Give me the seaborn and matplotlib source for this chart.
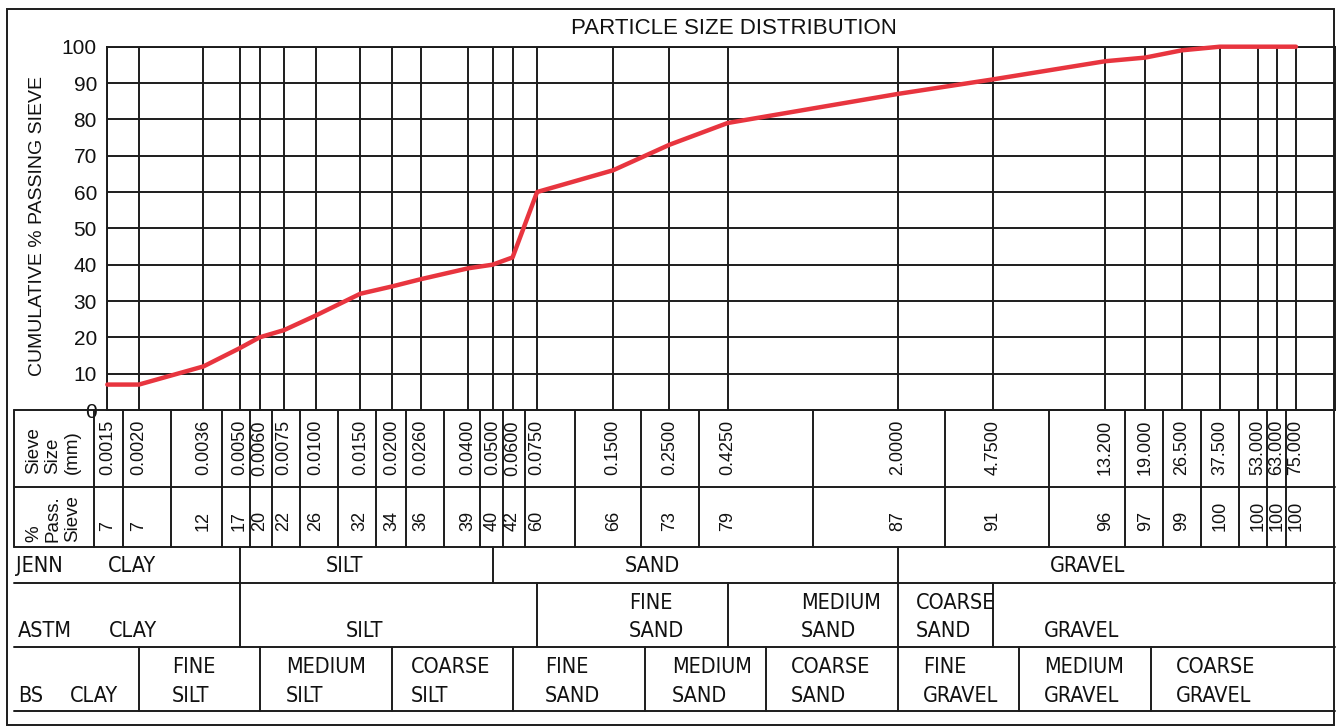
import numpy as np
import pandas as pd
import matplotlib
matplotlib.use("Agg")
import matplotlib.pyplot as plt
import seaborn as sns
from matplotlib import transforms
from matplotlib import font_manager as fm
from matplotlib.lines import Line2D
from matplotlib.patches import Rectangle

# ---------------- data ----------------
sieve_mm = [0.0015, 0.0020, 0.0036, 0.0050, 0.0060, 0.0075, 0.0100, 0.0150,
            0.0200, 0.0260, 0.0400, 0.0500, 0.0600, 0.0750, 0.1500, 0.2500,
            0.4250, 2.0000, 4.7500, 13.200, 19.000, 26.500, 37.500, 53.000,
            63.000, 75.000]
sieve_labels = ["0.0015", "0.0020", "0.0036", "0.0050", "0.0060", "0.0075",
                "0.0100", "0.0150", "0.0200", "0.0260", "0.0400", "0.0500",
                "0.0600", "0.0750", "0.1500", "0.2500", "0.4250", "2.0000",
                "4.7500", "13.200", "19.000", "26.500", "37.500", "53.000",
                "63.000", "75.000"]
passing = [7, 7, 12, 17, 20, 22, 26, 32, 34, 36, 39, 40, 42, 60, 66, 73, 79,
           87, 91, 96, 97, 99, 100, 100, 100, 100]
y_ticks = [0, 10, 20, 30, 40, 50, 60, 70, 80, 90, 100]

title = "PARTICLE SIZE DISTRIBUTION"
y_label = "CUMULATIVE % PASSING SIEVE"
sieve_header = "Sieve\nSize\n(mm)"
pass_header = "%\nPass.\nSieve"

system_names = ["JENN", "ASTM", "BS"]
jenn_bounds = [0.005, 0.05, 2.0]
jenn_labels = ["CLAY", "SILT", "SAND", "GRAVEL"]
astm_bounds = [0.005, 0.075, 0.425, 2.0, 4.75]
astm_labels = ["CLAY", "SILT", "FINE\nSAND", "MEDIUM\nSAND", "COARSE\nSAND", "GRAVEL"]
bs_bounds = [0.002, 0.006, 0.02, 0.06, 0.2, 0.6, 2.0, 6.0, 20.0]
bs_labels = ["CLAY", "FINE\nSILT", "MEDIUM\nSILT", "COARSE\nSILT", "FINE\nSAND",
             "MEDIUM\nSAND", "COARSE\nSAND", "FINE\nGRAVEL", "MEDIUM\nGRAVEL",
             "COARSE\nGRAVEL"]

# ---------------- layout (pixels) ----------------
W, H = 1336, 727
PX_AX_L, PX_AX_R = 107.3, 1335.0
PX_Y0, PX_Y100 = 410.0, 46.7
PX_PER_DECADE = 252.97
TABLE_TOP, TABLE_MID, TABLE_BOT = 410, 487, 547
ROW_JENN_BOT, ROW_ASTM_BOT, ROW_BS_BOT = 583, 647, 711
jenn_text_x = [108, 326, 625, 1050]
astm_text_x = [109, 346, 629, 801, 916, 1044]
bs_text_x = [70, 172, 286, 411, 545, 672, 791, 923, 1044, 1176]

LINE_C = "#1c1c1c"
TEXT_C = "#111111"
RED = "#e8353f"
LW = 1.4

sns.set_theme(style="white")
plt.rcParams["font.family"] = ["Liberation Sans", "DejaVu Sans"]


def condensed_font(size):
    for f in fm.fontManager.ttflist:
        if f.fname.lower().endswith("dejavusanscondensed.ttf"):
            return fm.FontProperties(fname=f.fname, size=size)
    names = {f.name for f in fm.fontManager.ttflist}
    for nm in ["Liberation Sans Narrow", "Roboto Condensed", "Open Sans Condensed"]:
        if nm in names:
            return fm.FontProperties(family=nm, size=size)
    return fm.FontProperties(family="DejaVu Sans", size=size)


fig = plt.figure(figsize=(W / 100, H / 100), dpi=100)
fig.patch.set_facecolor("white")

# size the classification font so that "GRAVEL" is ~76 px wide, as in the reference
cond = condensed_font(14.0)
renderer = fig.canvas.get_renderer()
_probe = fig.text(0, 0, "GRAVEL", fontproperties=cond)
_w = _probe.get_window_extent(renderer).width
_probe.remove()
cond.set_size(14.0 * 76.0 / _w)


def fx(px):
    return px / W


def fy(py):
    return 1 - py / H


ax = fig.add_axes([fx(PX_AX_L), fy(PX_Y0), (PX_AX_R - PX_AX_L) / W, (PX_Y0 - PX_Y100) / H])
ax.set_xscale("log")
xmin = sieve_mm[0]
xmax = 10 ** (np.log10(xmin) + (PX_AX_R - PX_AX_L) / PX_PER_DECADE)
ax.set_xlim(xmin, xmax)
ax.set_ylim(0, 100)

df = pd.DataFrame({"size": sieve_mm, "pass": passing})
sns.lineplot(data=df, x="size", y="pass", color=RED, linewidth=3.2,
             estimator=None, ax=ax, clip_on=False, zorder=5)
ax.set_xlabel("")
ax.set_ylabel("")

ax.set_xticks(sieve_mm)
ax.set_xticks([], minor=True)
ax.tick_params(axis="x", which="both", length=0, labelbottom=False)
ax.set_yticks(y_ticks)
ax.set_yticklabels([str(v) for v in y_ticks])
ax.tick_params(axis="y", length=0, pad=7.5, labelsize=15, labelcolor=TEXT_C)
ax.grid(True, which="major", color=LINE_C, linewidth=LW)
ax.set_axisbelow(True)
for sp in ax.spines.values():
    sp.set_color(LINE_C)
    sp.set_linewidth(LW)
    sp.set_visible(True)

blend = transforms.blended_transform_factory(ax.transData, fig.transFigure)


def hline(px0, px1, py):
    fig.add_artist(Line2D([fx(px0), fx(px1)], [fy(py), fy(py)], transform=fig.transFigure,
                          color=LINE_C, linewidth=LW))


def vline_px(px, py0, py1):
    fig.add_artist(Line2D([fx(px), fx(px)], [fy(py0), fy(py1)], transform=fig.transFigure,
                          color=LINE_C, linewidth=LW))


def vline_data(xd, py0, py1):
    ax.plot([xd, xd], [fy(py0), fy(py1)], transform=blend, clip_on=False,
            color=LINE_C, linewidth=LW)


# outer frame
fig.add_artist(Rectangle((fx(7), fy(725)), fx(1334) - fx(7), fy(9) - fy(725), fill=False,
                         transform=fig.transFigure, edgecolor=LINE_C, linewidth=LW))

# title and y label
fig.text(fx(734), fy(29), title, ha="center", va="center", fontsize=16, color=TEXT_C)
fig.text(fx(38), fy(226), y_label, ha="center", va="center", rotation=90, fontsize=14,
         color=TEXT_C)

# ---------------- sieve table ----------------
for py in (TABLE_TOP, TABLE_MID, TABLE_BOT):
    hline(14, PX_AX_R, py)
vline_px(14, TABLE_TOP, TABLE_BOT)
vline_px(94, TABLE_TOP, TABLE_BOT)
s = np.array(sieve_mm)
mids = np.sqrt(s[:-1] * s[1:])
for m in mids:
    vline_data(m, TABLE_TOP, TABLE_BOT)

fig.text(fx(53), fy(474), sieve_header, rotation=90, ha="center", va="bottom",
         multialignment="left", fontsize=13.5, linespacing=1.2, color=TEXT_C)
fig.text(fx(53), fy(542), pass_header, rotation=90, ha="center", va="bottom",
         multialignment="left", fontsize=13.5, linespacing=1.2, color=TEXT_C)

for xs, lab, pv in zip(sieve_mm, sieve_labels, passing):
    ax.text(xs, fy(420), lab, transform=blend, rotation=90, ha="center", va="top",
            fontsize=13, color=TEXT_C)
    ax.text(xs, fy(531), str(pv), transform=blend, rotation=90, ha="center", va="bottom",
            fontsize=13, color=TEXT_C)

# ---------------- classification rows ----------------
for py in (ROW_JENN_BOT, ROW_ASTM_BOT, ROW_BS_BOT):
    hline(14, PX_AX_R, py)
for b in jenn_bounds:
    vline_data(b, TABLE_BOT, ROW_JENN_BOT)
for b in astm_bounds:
    vline_data(b, ROW_JENN_BOT, ROW_ASTM_BOT)
for b in bs_bounds:
    vline_data(b, ROW_ASTM_BOT, ROW_BS_BOT)


def row_text(px, lab, y_top, y_bot):
    parts = lab.split("\n")
    if len(parts) == 1:
        fig.text(fx(px), fy(y_bot), parts[0], ha="left", va="center", fontproperties=cond,
                 color=TEXT_C)
    else:
        fig.text(fx(px), fy(y_top), parts[0], ha="left", va="center", fontproperties=cond,
                 color=TEXT_C)
        fig.text(fx(px), fy(y_bot), parts[1], ha="left", va="center", fontproperties=cond,
                 color=TEXT_C)


JENN_Y = 566
ASTM_Y1, ASTM_Y2 = 603, 631
BS_Y1, BS_Y2 = 667, 696

row_text(16, system_names[0], JENN_Y, JENN_Y)
row_text(18, system_names[1], ASTM_Y1, ASTM_Y2)
row_text(18, system_names[2], BS_Y1, BS_Y2)
for px, lab in zip(jenn_text_x, jenn_labels):
    row_text(px, lab, JENN_Y, JENN_Y)
for px, lab in zip(astm_text_x, astm_labels):
    row_text(px, lab, ASTM_Y1, ASTM_Y2)
for px, lab in zip(bs_text_x, bs_labels):
    row_text(px, lab, BS_Y1, BS_Y2)

fig.savefig("out.png", dpi=100, facecolor="white")
